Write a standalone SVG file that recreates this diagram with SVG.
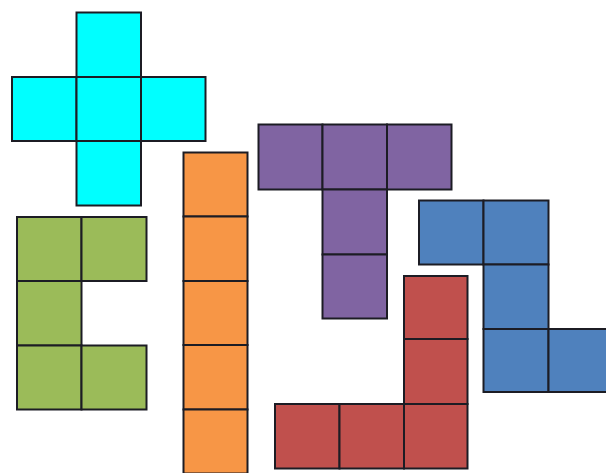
<svg xmlns="http://www.w3.org/2000/svg" width="606" height="473" viewBox="0 0 606 473">
<style>
.c,.g,.o,.p,.b,.r{stroke:#1c1c24;stroke-width:2}
.c{fill:#00FFFF}.g{fill:#9BBB59}.o{fill:#F79646}.p{fill:#8064A2}.b{fill:#4F81BD}.r{fill:#C0504D}
</style>
<rect x="0" y="0" width="606" height="473" fill="#fff"/>
<g id="cyan-x">
<rect class="c" x="76.5" y="12.5" width="64.5" height="64.5"/>
<rect class="c" x="12" y="77" width="64.5" height="64"/>
<rect class="c" x="76.5" y="77" width="64.5" height="64"/>
<rect class="c" x="141" y="77" width="64.5" height="64"/>
<rect class="c" x="76.5" y="141" width="64.5" height="64.5"/>
</g>
<g id="green-u">
<rect class="g" x="17" y="217" width="64.5" height="64"/>
<rect class="g" x="81.5" y="217" width="65" height="64"/>
<rect class="g" x="17" y="281" width="64.5" height="64.5"/>
<rect class="g" x="17" y="345.5" width="64.5" height="64"/>
<rect class="g" x="81.5" y="345.5" width="65" height="64"/>
</g>
<g id="orange-i">
<rect class="o" x="183.5" y="152.5" width="64" height="64"/>
<rect class="o" x="183.5" y="216.5" width="64" height="64.5"/>
<rect class="o" x="183.5" y="281" width="64" height="64"/>
<rect class="o" x="183.5" y="345" width="64" height="64.5"/>
<rect class="o" x="183.5" y="409.5" width="64" height="64"/>
</g>
<g id="purple-t">
<rect class="p" x="258.5" y="124.5" width="64" height="65"/>
<rect class="p" x="322.5" y="124.5" width="64.5" height="65"/>
<rect class="p" x="387" y="124.5" width="64.5" height="65"/>
<rect class="p" x="322.5" y="189.5" width="64.5" height="65"/>
<rect class="p" x="322.5" y="254.5" width="64.5" height="64"/>
</g>
<g id="blue-w">
<rect class="b" x="419" y="200.5" width="64.5" height="64"/>
<rect class="b" x="483.5" y="200.5" width="65" height="64"/>
<rect class="b" x="483.5" y="264.5" width="65" height="64.5"/>
<rect class="b" x="483.5" y="329" width="65" height="63"/>
<rect class="b" x="548.5" y="329" width="70" height="63"/>
</g>
<g id="red-v">
<rect class="r" x="404" y="276" width="63.5" height="63"/>
<rect class="r" x="404" y="339" width="63.5" height="65"/>
<rect class="r" x="275" y="404" width="64.5" height="64.5"/>
<rect class="r" x="339.5" y="404" width="64.5" height="64.5"/>
<rect class="r" x="404" y="404" width="63.5" height="64.5"/>
</g>
<g id="connectors"/>
</svg>
